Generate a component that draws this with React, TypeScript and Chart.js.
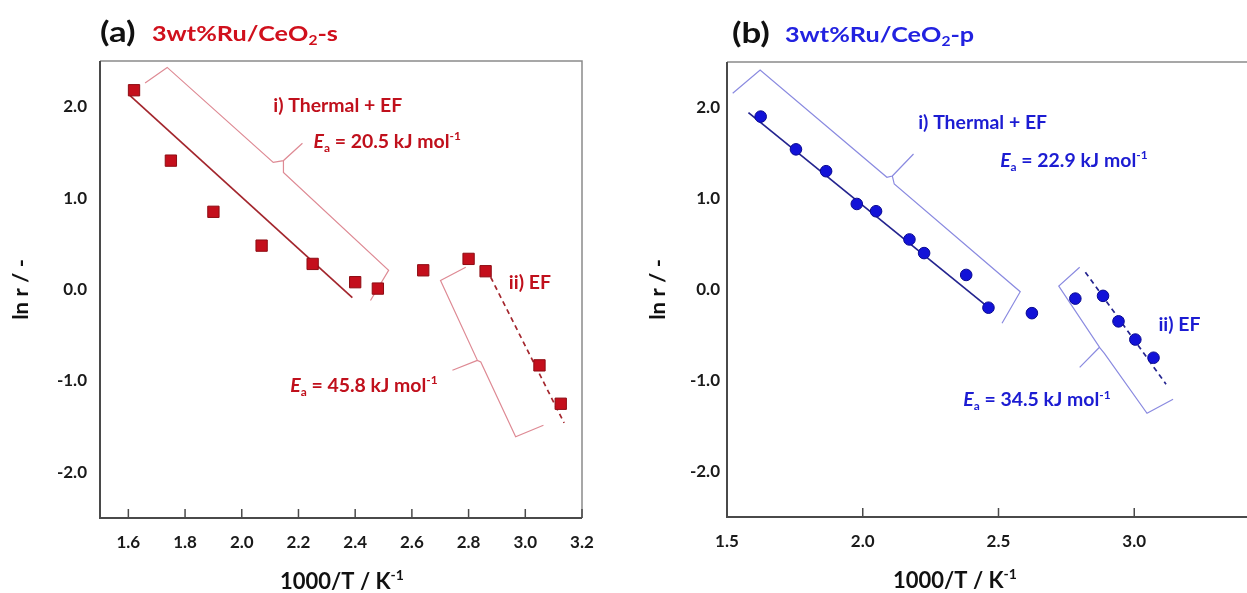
import React, { useEffect, useRef } from 'react';
import { Chart, registerables } from 'chart.js';

Chart.register(...registerables);

const FONT = 'Lato, "Open Sans", "Liberation Sans", sans-serif';

// ---------- Panel (a): 3wt%Ru/CeO2-s ----------
const xA = [1.62, 1.75, 1.90, 2.07, 2.25, 2.40, 2.48, 2.64, 2.80, 2.86, 3.05, 3.125];
const yA = [2.18, 1.41, 0.85, 0.48, 0.28, 0.08, 0.01, 0.21, 0.335, 0.20, -0.83, -1.25];
const fitThermalAX = [1.606, 2.39];
const fitThermalAY = [2.12, -0.09];
const fitEFAX = [2.878, 3.137];
const fitEFAY = [0.134, -1.46];
const braceThermalAX = [1.659, 1.737, 2.111, 2.147, 2.214, 2.147, 2.147, 2.518, 2.454];
const braceThermalAY = [2.26, 2.43, 1.39, 1.41, 1.60, 1.41, 1.28, 0.21, -0.12];
const braceEFAX = [2.790, 2.701, 2.831, 2.743, 2.831, 2.843, 2.966, 3.064];
const braceEFAY = [0.243, 0.098, -0.775, -0.884, -0.775, -0.793, -1.612, -1.485];
const xTicksA = [1.6, 1.8, 2.0, 2.2, 2.4, 2.6, 2.8, 3.0, 3.2];

// ---------- Panel (b): 3wt%Ru/CeO2-p ----------
const xB = [1.624, 1.754, 1.865, 1.978, 2.049, 2.172, 2.226, 2.381, 2.463, 2.623, 2.783, 2.885, 2.942, 3.004, 3.071];
const yB = [1.90, 1.54, 1.30, 0.94, 0.86, 0.55, 0.40, 0.16, -0.20, -0.26, -0.10, -0.07, -0.35, -0.55, -0.75];
const fitThermalBX = [1.579, 2.457];
const fitThermalBY = [1.944, -0.183];
const fitEFBX = [2.820, 3.117];
const fitEFBY = [0.19, -1.04];
const braceThermalBX = [1.521, 1.622, 2.089, 2.109, 2.187, 2.109, 2.116, 2.580, 2.513];
const braceThermalBY = [2.156, 2.412, 1.233, 1.247, 1.489, 1.247, 1.159, -0.024, -0.371];
const braceEFBX = [2.799, 2.722, 2.872, 2.799, 2.872, 2.890, 3.047, 3.143];
const braceEFBY = [0.244, 0.038, -0.635, -0.855, -0.635, -0.701, -1.360, -1.207];
const xTicksB = [1.5, 2.0, 2.5, 3.0, 3.5];

const yTicks = [-2, -1, 0, 1, 2];

type Run = { t: string; k?: 'i' | 'sub' | 'sup' };

const zip = (xs: number[], ys: number[]) => xs.map((x, i) => ({ x, y: ys[i] }));

function drawRich(
  ctx: CanvasRenderingContext2D,
  runs: Run[],
  x: number,
  y: number,
  size: number,
  color: string,
  align: 'left' | 'center' | 'right' = 'left',
  hs = 1
) {
  const fontFor = (r: Run) => {
    const small = r.k === 'sub' || r.k === 'sup';
    return `${r.k === 'i' ? 'italic ' : ''}bold ${small ? Math.round(size * 0.62) : size}px ${FONT}`;
  };
  let total = 0;
  const widths = runs.map((r) => {
    ctx.font = fontFor(r);
    const w = ctx.measureText(r.t).width * hs;
    total += w;
    return w;
  });
  let cx = align === 'left' ? x : align === 'center' ? x - total / 2 : x - total;
  ctx.fillStyle = color;
  ctx.textAlign = 'left';
  ctx.textBaseline = 'alphabetic';
  const base = y + size * 0.36;
  runs.forEach((r, i) => {
    ctx.font = fontFor(r);
    const dy = r.k === 'sub' ? size * 0.22 : r.k === 'sup' ? -size * 0.42 : 0;
    ctx.save();
    ctx.translate(cx, base + dy);
    ctx.scale(hs, 1);
    ctx.fillText(r.t, 0, 0);
    ctx.restore();
    cx += widths[i];
  });
}

interface Annot { x: number; y: number; runs: Run[]; size: number; color: string }
interface PanelCfg {
  width: number;
  height: number;
  left: number;
  padding: { top: number; right: number };
  xMin: number;
  xMax: number;
  xTicks: number[];
  xAxisHeight: number;
  yLabelPad: number;
  px: number[]; py: number[];
  fitTX: number[]; fitTY: number[];
  fitEX: number[]; fitEY: number[];
  brTX: number[]; brTY: number[];
  brEX: number[]; brEY: number[];
  pointStyle: 'rect' | 'circle';
  pointRadius: number;
  pointColor: string;
  pointBorder: string;
  lineColor: string;
  braceColor: string;
  annots: Annot[];
  tag: string;
  tagDx: number;
  name: Run[];
  nameDx: number;
  nameColor: string;
  xTitleDx: number;
  yTitleDx: number;
}

const TXT_A = '#c0101c';
const TXT_B = '#1c1cd2';
const ANN = 18;

const cfgA: PanelCfg = {
  width: 620, height: 593, left: 0,
  padding: { top: 61, right: 38 },
  xMin: 1.5, xMax: 3.2, xTicks: xTicksA, xAxisHeight: 75, yLabelPad: 13,
  px: xA, py: yA,
  fitTX: fitThermalAX, fitTY: fitThermalAY, fitEX: fitEFAX, fitEY: fitEFAY,
  brTX: braceThermalAX, brTY: braceThermalAY, brEX: braceEFAX, brEY: braceEFAY,
  pointStyle: 'rect', pointRadius: 8, pointColor: '#c40f1c', pointBorder: '#8e0d14',
  lineColor: '#a3262d', braceColor: '#de8a94',
  annots: [
    { x: 2.111, y: 2.01, runs: [{ t: 'i) Thermal + EF' }], size: ANN, color: TXT_A },
    { x: 2.253, y: 1.62, runs: [{ t: 'E', k: 'i' }, { t: 'a', k: 'sub' }, { t: ' = 20.5 kJ mol' }, { t: '-1', k: 'sup' }], size: ANN, color: TXT_A },
    { x: 2.942, y: 0.08, runs: [{ t: 'ii) EF' }], size: ANN, color: TXT_A },
    { x: 2.171, y: -1.05, runs: [{ t: 'E', k: 'i' }, { t: 'a', k: 'sub' }, { t: ' = 45.8 kJ mol' }, { t: '-1', k: 'sup' }], size: ANN, color: TXT_A },
  ],
  tag: '(a)', tagDx: 0,
  name: [{ t: '3wt%Ru/CeO' }, { t: '2', k: 'sub' }, { t: '-s' }], nameDx: 52, nameColor: '#d0101c',
  xTitleDx: 242, yTitleDx: -80,
};

const cfgB: PanelCfg = {
  width: 700, height: 593, left: 627,
  padding: { top: 62, right: 57 },
  xMin: 1.5, xMax: 3.5, xTicks: xTicksB, xAxisHeight: 76, yLabelPad: 7,
  px: xB, py: yB,
  fitTX: fitThermalBX, fitTY: fitThermalBY, fitEX: fitEFBX, fitEY: fitEFBY,
  brTX: braceThermalBX, brTY: braceThermalBY, brEX: braceEFBX, brEY: braceEFBY,
  pointStyle: 'circle', pointRadius: 5.8, pointColor: '#1212d8', pointBorder: '#0a0a90',
  lineColor: '#24248f', braceColor: '#8a8ae0',
  annots: [
    { x: 2.204, y: 1.83, runs: [{ t: 'i) Thermal + EF' }], size: ANN, color: TXT_B },
    { x: 2.506, y: 1.42, runs: [{ t: 'E', k: 'i' }, { t: 'a', k: 'sub' }, { t: ' = 22.9 kJ mol' }, { t: '-1', k: 'sup' }], size: ANN, color: TXT_B },
    { x: 3.089, y: -0.38, runs: [{ t: 'ii) EF' }], size: ANN, color: TXT_B },
    { x: 2.370, y: -1.21, runs: [{ t: 'E', k: 'i' }, { t: 'a', k: 'sub' }, { t: ' = 34.5 kJ mol' }, { t: '-1', k: 'sup' }], size: ANN, color: TXT_B },
  ],
  tag: '(b)', tagDx: 5,
  name: [{ t: '3wt%Ru/CeO' }, { t: '2', k: 'sub' }, { t: '-p' }], nameDx: 58, nameColor: '#2222e0',
  xTitleDx: 228, yTitleDx: -70,
};

function makeDecor(cfg: PanelCfg) {
  return {
    id: 'decor' + cfg.tag,
    beforeDatasetsDraw(chart: any) {
      const { ctx, chartArea: a, scales } = chart;
      ctx.save();
      // frame: top/right lighter, left/bottom darker
      ctx.lineWidth = 1.5;
      ctx.strokeStyle = '#8a8a8a';
      ctx.beginPath();
      ctx.moveTo(a.left, a.top);
      ctx.lineTo(a.right, a.top);
      ctx.lineTo(a.right, a.bottom);
      ctx.stroke();
      ctx.lineWidth = 2;
      ctx.strokeStyle = '#4a4a4a';
      ctx.beginPath();
      ctx.moveTo(a.left, a.top);
      ctx.lineTo(a.left, a.bottom);
      ctx.lineTo(a.right, a.bottom);
      ctx.stroke();
      // inward tick marks on x axis
      ctx.lineWidth = 1.5;
      scales.x.ticks.forEach((t: any) => {
        const px = scales.x.getPixelForValue(t.value);
        ctx.beginPath();
        ctx.moveTo(px, a.bottom);
        ctx.lineTo(px, a.bottom - 9);
        ctx.stroke();
      });
      ctx.restore();
    },
    afterDraw(chart: any) {
      const { ctx, chartArea: a, scales } = chart;
      ctx.save();
      cfg.annots.forEach((an) => {
        drawRich(ctx, an.runs, scales.x.getPixelForValue(an.x), scales.y.getPixelForValue(an.y), an.size, an.color, 'left', 1.08);
      });
      // panel tag & name
      drawRich(ctx, [{ t: cfg.tag }], a.left + cfg.tagDx, a.top - 29, 29, '#111', 'left', 1.2);
      drawRich(ctx, cfg.name, a.left + cfg.nameDx, a.top - 28, 21, cfg.nameColor, 'left', 1.2);
      // x axis title
      drawRich(ctx, [{ t: '1000/T / K' }, { t: '-1', k: 'sup' }], a.left + cfg.xTitleDx, a.bottom + 63, 22, '#111', 'center');
      // y axis title (rotated)
      ctx.translate(a.left + cfg.yTitleDx, (a.top + a.bottom) / 2);
      ctx.rotate(-Math.PI / 2);
      drawRich(ctx, [{ t: 'ln r / -' }], 0, 0, 21, '#111', 'center', 1.05);
      ctx.restore();
    },
  };
}

function buildConfig(cfg: PanelCfg): any {
  const tickFont = { family: FONT, size: 17, weight: 'bold' as const };
  return {
    type: 'scatter',
    data: {
      datasets: [
        {
          data: zip(cfg.px, cfg.py),
          pointStyle: cfg.pointStyle,
          pointRadius: cfg.pointRadius,
          pointBackgroundColor: cfg.pointColor,
          pointBorderColor: cfg.pointBorder,
          pointBorderWidth: 1,
          showLine: false,
        },
        {
          type: 'line',
          data: zip(cfg.fitTX, cfg.fitTY),
          borderColor: cfg.lineColor,
          borderWidth: 1.7,
          pointRadius: 0,
          fill: false,
        },
        {
          type: 'line',
          data: zip(cfg.fitEX, cfg.fitEY),
          borderColor: cfg.lineColor,
          borderWidth: 1.7,
          borderDash: [5, 4],
          pointRadius: 0,
          fill: false,
        },
        {
          type: 'line',
          data: zip(cfg.brTX, cfg.brTY),
          borderColor: cfg.braceColor,
          borderWidth: 1.2,
          pointRadius: 0,
          fill: false,
          tension: 0,
        },
        {
          type: 'line',
          data: zip(cfg.brEX, cfg.brEY),
          borderColor: cfg.braceColor,
          borderWidth: 1.2,
          pointRadius: 0,
          fill: false,
          tension: 0,
        },
      ],
    },
    options: {
      responsive: false,
      animation: false,
      devicePixelRatio: 1,
      layout: { padding: { left: 0, top: cfg.padding.top, right: cfg.padding.right, bottom: 0 } },
      plugins: { legend: { display: false }, tooltip: { enabled: false } },
      scales: {
        x: {
          type: 'linear',
          min: cfg.xMin,
          max: cfg.xMax,
          afterBuildTicks: (s: any) => {
            s.ticks = cfg.xTicks.map((v) => ({ value: v }));
          },
          afterFit: (s: any) => {
            s.height = cfg.xAxisHeight;
          },
          grid: { display: false, drawTicks: false },
          border: { display: false },
          ticks: {
            font: tickFont,
            color: '#1a1a1a',
            padding: 14,
            maxRotation: 0,
            autoSkip: false,
            callback: (v: any) => Number(v).toFixed(1),
          },
        },
        y: {
          type: 'linear',
          min: -2.5,
          max: 2.5,
          afterBuildTicks: (s: any) => {
            s.ticks = yTicks.map((v) => ({ value: v }));
          },
          afterFit: (s: any) => {
            s.width = 100;
          },
          grid: { display: false, drawTicks: false },
          border: { display: false },
          ticks: {
            font: tickFont,
            color: '#1a1a1a',
            padding: cfg.yLabelPad,
            callback: (v: any) => Number(v).toFixed(1),
          },
        },
      },
    },
    plugins: [makeDecor(cfg)],
  };
}

function Panel({ cfg }: { cfg: PanelCfg }) {
  const ref = useRef<HTMLCanvasElement>(null);
  useEffect(() => {
    const chart = new Chart(ref.current as HTMLCanvasElement, buildConfig(cfg));
    return () => chart.destroy();
  }, [cfg]);
  return (
    <canvas
      ref={ref}
      width={cfg.width}
      height={cfg.height}
      style={{ position: 'absolute', left: cfg.left, top: 0, width: cfg.width, height: cfg.height }}
    />
  );
}

export default function App() {
  return (
    <div
      style={{
        position: 'fixed',
        left: 0,
        top: 0,
        width: 1247,
        height: 593,
        overflow: 'hidden',
        background: '#ffffff',
      }}
    >
      <Panel cfg={cfgA} />
      <Panel cfg={cfgB} />
    </div>
  );
}
